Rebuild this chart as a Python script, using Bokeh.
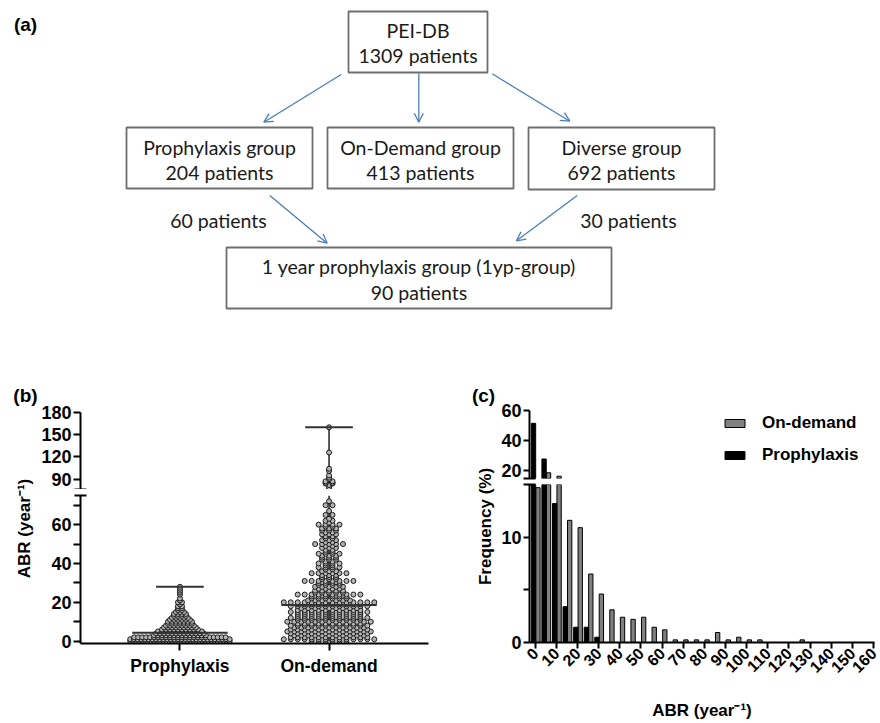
import math
from bokeh.plotting import figure
from bokeh.layouts import column, row
from bokeh.models import (Range1d, FixedTicker, Arrow, OpenHead, Legend,
                          LegendItem, ColumnDataSource)
from bokeh.core.properties import value
from bokeh.embed import file_html
from bokeh.resources import INLINE

# ---------------- data ----------------
# (a) flow chart texts
source_box_text = ["PEI-DB", "1309 patients"]
group_names = ["Prophylaxis group", "On-Demand group", "Diverse group"]
group_counts = ["204 patients", "413 patients", "692 patients"]
transfer_labels = ["60 patients", "30 patients"]
final_box_text = ["1 year prophylaxis group (1yp-group)", "90 patients"]

# (b) individual ABR values (value -> number of patients)
b_categories = ["Prophylaxis", "On-demand"]
proph_abr = [0, 1, 2, 3, 4, 5, 6, 7, 8, 9, 10, 11, 12, 13, 14, 15, 16, 17, 18, 19,
             20, 21, 22, 24, 25, 26, 27, 28]
proph_n = [34, 28, 24, 14, 13, 12, 10, 9, 8, 7, 7, 6, 5, 4, 4, 3, 2, 2, 2, 1,
           2, 1, 1, 1, 1, 1, 1, 1]
ond_abr = [0, 1, 2, 3, 4, 5, 6, 7, 8, 9, 10, 11, 12, 13, 14, 15, 16, 17, 18,
           19, 20, 21, 22, 23, 24, 25, 26, 27, 28, 29, 30,
           31, 32, 33, 34, 35, 36, 37, 38, 39, 40,
           41, 42, 43, 44, 45, 46, 47, 48, 49, 50,
           51, 52, 53, 54, 55, 56, 57, 58, 59, 60,
           61, 62, 63, 65, 67, 70, 72,
           77, 79, 82, 84, 85, 87, 90, 92, 95, 101, 104, 126, 160]
ond_n = [6, 14, 12, 11, 12, 13, 12, 11, 12, 10, 13, 10, 12, 10, 10, 12, 10, 9, 12,
         10, 14, 7, 6, 6, 10, 5, 5, 4, 5, 4, 4,
         8, 3, 3, 3, 6, 3, 2, 4, 2, 4,
         2, 3, 3, 3, 4, 2, 2, 3, 2, 5,
         2, 3, 2, 2, 3, 2, 3, 3, 2, 4,
         1, 2, 1, 2, 1, 2, 1,
         1, 1, 1, 2, 2, 2, 1, 1, 1, 1, 1, 1, 1]
b_median = [4.3, 18.6]
b_max = [28, 160]
b_min = [0, 0]
b_lower_ticks = [0, 20, 40, 60]
b_lower_minor = [10, 30, 50, 70]
b_upper_ticks = [90, 120, 150, 180]

# (c) frequency distribution (%), bins of 5
c_bins = [0, 5, 10, 15, 20, 25, 30, 35, 40, 45, 50, 55, 60, 65, 70, 75, 80, 85, 90,
          95, 100, 105, 110, 115, 120, 125, 130, 135, 140, 145, 150, 155, 160]
c_ondemand = [14.7, 18.8, 16.5, 11.6, 10.9, 6.5, 4.6, 3.1, 2.4, 2.2, 2.4, 1.45, 1.2,
              0.25, 0.25, 0.25, 0.25, 0.95, 0.25, 0.5, 0.25, 0.25, 0, 0, 0, 0.25,
              0, 0, 0, 0, 0, 0, 0]
c_prophylaxis = [51.5, 27.9, 13.2, 3.4, 1.45, 1.45, 0.5, 0, 0, 0, 0, 0, 0, 0, 0, 0,
                 0, 0, 0, 0, 0, 0, 0, 0, 0, 0, 0, 0, 0, 0, 0, 0, 0]
c_series = ["On-demand", "Prophylaxis"]
c_xticks = [0, 10, 20, 30, 40, 50, 60, 70, 80, 90, 100, 110, 120, 130, 140, 150, 160]
c_lower_ticks = [0, 5, 10]
c_upper_ticks = [20, 40, 60]

# ---------------- styling helpers ----------------
BOLD_FONT = "Liberation Sans"
FLOW_FONT = "Lato"
BLUE = "#4a7ebb"
BOX = "#6e6e6e"


def blank_fig(w, h, xr, yr):
    f = figure(width=w, height=h, x_range=Range1d(*xr), y_range=Range1d(*yr),
               toolbar_location=None, output_backend="svg", min_border=0,
               x_axis_location=None, y_axis_location=None)
    f.grid.visible = False
    f.outline_line_color = None
    return f


def style_axis(ax, tick_out=7, size="18px"):
    ax.axis_line_width = 2
    ax.axis_line_color = "black"
    ax.major_tick_line_width = 2
    ax.major_tick_line_color = "black"
    ax.major_tick_out = tick_out
    ax.major_tick_in = 0
    ax.minor_tick_line_width = 2
    ax.minor_tick_line_color = "black"
    ax.minor_tick_in = 6
    ax.minor_tick_out = 6
    ax.major_label_text_font = BOLD_FONT
    ax.major_label_text_font_style = "bold"
    ax.major_label_text_font_size = size
    ax.major_label_text_color = "black"
    ax.major_label_standoff = 2


# ---------------- (a) flow chart ----------------
fa = blank_fig(880, 380, (0, 880), (380, 0))
boxes = dict(left=[348, 126, 327, 528, 226], right=[487, 312, 513, 714, 611],
             top=[11, 127, 127, 127, 247], bottom=[72, 188, 188, 189, 308])
fa.quad(source=ColumnDataSource(boxes), left="left", right="right", top="top",
        bottom="bottom", fill_color=None, line_color=BOX, line_width=1.8)

flow_x = [417.5, 417.5, 219, 219, 420, 420, 621, 621, 418.5, 418.5, 218, 628]
flow_y = [30, 55, 146.7, 171.7, 146.7, 171.7, 146.7, 171.7, 266, 291.7, 220, 220]
flow_t = (source_box_text
          + [group_names[0], group_counts[0], group_names[1], group_counts[1],
             group_names[2], group_counts[2]]
          + final_box_text + transfer_labels)
fa.text(x=flow_x, y=flow_y, text=flow_t, text_font=value(FLOW_FONT),
        text_font_size=value("19.5px"), text_color="#1a1a1a",
        text_align="center", text_baseline="middle")
fa.text(x=[25], y=[24], text=["(a)"], text_font=value(BOLD_FONT),
        text_font_style="bold", text_font_size=value("19px"), text_color="black",
        text_align="center", text_baseline="middle")

arrows = [((340.7, 74), (263.3, 121.7)), ((418.3, 72.7), (418.3, 121.7)),
          ((491.7, 73.3), (569.3, 120.7)), ((269.3, 195), (326.7, 242.7)),
          ((576.7, 195), (516, 240.3))]
for (xs, ys), (xe, ye) in arrows:
    fa.add_layout(Arrow(end=OpenHead(size=9, line_color=BLUE, line_width=1.3),
                        x_start=xs, y_start=ys, x_end=xe, y_end=ye,
                        line_color=BLUE, line_width=1.3))

# ---------------- (b) scatter dot plot with broken axis ----------------
B_XR = (0.333, 2.667)
B_FRAME_W = 350
B_LOW = (-1.2, 75)
B_UP = (76, 180)
px_per_x = B_FRAME_W / (B_XR[1] - B_XR[0])


def make_swarm(center, vals, counts, spacing_px, max_half_px):
    xs, ys = [], []
    for v, n in zip(vals, counts):
        sp = spacing_px
        if n > 1 and (n - 1) * sp / 2.0 > max_half_px:
            sp = 2.0 * max_half_px / (n - 1)
        for k in range(n):
            xs.append(center + (k - (n - 1) / 2.0) * sp / px_per_x)
            ys.append(v)
    return xs, ys


px1, py1 = make_swarm(1, proph_abr, proph_n, 4.0, 50)
px2, py2 = make_swarm(2, ond_abr, ond_n, 7.0, 50)
all_x, all_y = px1 + px2, py1 + py2
cat_x = [1, 2]


def b_segment_sources(lo, hi):
    """Split the dots / summary lines to the part of the broken axis [lo, hi]."""
    d = ColumnDataSource(dict(x=[x for x, y in zip(all_x, all_y) if lo <= y <= hi],
                              y=[y for y in all_y if lo <= y <= hi]))
    vx, v0, v1 = [], [], []
    for c, a, b in zip(cat_x, b_min, b_max):
        if b >= lo and a <= hi:
            vx.append(c); v0.append(max(a, lo)); v1.append(min(b, hi))
    vline = ColumnDataSource(dict(x=vx, y0=v0, y1=v1))
    caps = ColumnDataSource(dict(
        x0=[c - 0.16 for c, b in zip(cat_x, b_max) if lo <= b <= hi],
        x1=[c + 0.16 for c, b in zip(cat_x, b_max) if lo <= b <= hi],
        y=[b for b in b_max if lo <= b <= hi]))
    meds = ColumnDataSource(dict(
        x0=[c - 0.32 for c, m in zip(cat_x, b_median) if lo <= m <= hi],
        x1=[c + 0.32 for c, m in zip(cat_x, b_median) if lo <= m <= hi],
        y=[m for m in b_median if lo <= m <= hi]))
    return d, vline, caps, meds


b_top = figure(width=402, height=109, x_range=Range1d(*B_XR), y_range=Range1d(*B_UP),
               toolbar_location=None, output_backend="svg", x_axis_location=None,
               min_border_left=40, min_border_right=12, min_border_top=32,
               min_border_bottom=0)
b_bot = figure(width=402, height=234, x_range=b_top.x_range, y_range=Range1d(*B_LOW),
               toolbar_location=None, output_backend="svg",
               min_border_left=40, min_border_right=12, min_border_top=6,
               min_border_bottom=80)
for f, (lo, hi) in ((b_top, B_UP), (b_bot, B_LOW)):
    f.grid.visible = False
    f.outline_line_color = None
    d, vline, caps, meds = b_segment_sources(lo, hi)
    f.segment(x0="x", y0="y0", x1="x", y1="y1", source=vline,
              line_color="#222222", line_width=1.5)
    f.scatter(x="x", y="y", source=d, size=5, line_color="#1a1a1a",
              line_width=1, fill_color="#b4b4b4")
    f.segment(x0="x0", y0="y", x1="x1", y1="y", source=caps,
              line_color="#333333", line_width=2)
    f.segment(x0="x0", y0="y", x1="x1", y1="y", source=meds,
              line_color="#333333", line_width=2)
    style_axis(f.yaxis[0])

b_top.yaxis[0].ticker = FixedTicker(ticks=b_upper_ticks, minor_ticks=[B_UP[0]])
b_bot.yaxis[0].ticker = FixedTicker(ticks=b_lower_ticks + b_lower_minor,
                                    minor_ticks=[B_LOW[1]])
b_bot.yaxis[0].major_label_overrides = {t: "" for t in b_lower_minor}
bx = b_bot.xaxis[0]
style_axis(bx, size="17.5px")
bx.ticker = FixedTicker(ticks=cat_x, minor_ticks=[])
bx.major_label_overrides = {c: lab for c, lab in zip(cat_x, b_categories)}
bx.major_label_standoff = 5

b_lab = blank_fig(38, 343, (0, 38), (723, 380))
b_lab.text(x=[25], y=[395], text=["(b)"], text_font=value(BOLD_FONT),
           text_font_style="bold", text_font_size=value("19px"), text_color="black",
           text_align="center", text_baseline="middle")
b_lab.text(x=[24], y=[528], text=["ABR (year⁻¹)"], angle=math.pi / 2,
           text_font=value(BOLD_FONT), text_font_style="bold",
           text_font_size=value("17px"), text_color="black",
           text_align="center", text_baseline="middle")

# ---------------- (c) frequency distribution with broken axis ----------------
C_XR = (-2.7, 160.5)
C_LOW = (0, 15)
C_UP = (15, 60)


def c_source(vals, shift, lo, hi):
    keep = [(b, v) for b, v in zip(c_bins, vals) if v > lo]
    return ColumnDataSource(dict(x=[b + 0.25 + shift for b, v in keep],
                                 top=[min(v, hi) for b, v in keep],
                                 bottom=[lo for b, v in keep]))


c_top = figure(width=382, height=103, x_range=Range1d(*C_XR), y_range=Range1d(*C_UP),
               toolbar_location=None, output_backend="svg", x_axis_location=None,
               min_border_left=31, min_border_right=6, min_border_top=30,
               min_border_bottom=5)
c_bot = figure(width=382, height=240, x_range=c_top.x_range, y_range=Range1d(*C_LOW),
               toolbar_location=None, output_backend="svg",
               min_border_left=31, min_border_right=6, min_border_top=1,
               min_border_bottom=81)
rend = {}
for f, (lo, hi) in ((c_top, C_UP), (c_bot, C_LOW)):
    f.grid.visible = False
    f.outline_line_color = None
    rg = f.vbar(x="x", top="top", bottom="bottom", width=2.05,
                source=c_source(c_ondemand, 1.05, lo, hi),
                fill_color="#808080", line_color="black", line_width=1)
    rb = f.vbar(x="x", top="top", bottom="bottom", width=2.05,
                source=c_source(c_prophylaxis, -1.05, lo, hi),
                fill_color="black", line_color="black", line_width=1)
    rend[f] = (rg, rb)
    style_axis(f.yaxis[0], tick_out=6)

c_top.yaxis[0].ticker = FixedTicker(ticks=c_upper_ticks, minor_ticks=[C_UP[0]])
c_bot.yaxis[0].ticker = FixedTicker(ticks=c_lower_ticks, minor_ticks=[C_LOW[1]])
c_bot.yaxis[0].major_label_overrides = {5: ""}
cx = c_bot.xaxis[0]
style_axis(cx, tick_out=6, size="16px")
cx.ticker = FixedTicker(ticks=c_xticks, minor_ticks=[])
cx.major_label_orientation = math.pi / 4
cx.axis_label = "ABR (year⁻¹)"
cx.axis_label_text_font = BOLD_FONT
cx.axis_label_text_font_style = "bold"
cx.axis_label_text_font_size = "17px"
cx.axis_label_text_color = "black"
cx.axis_label_standoff = 20

legend = Legend(items=[LegendItem(label=c_series[0], renderers=[rend[c_top][0]]),
                       LegendItem(label=c_series[1], renderers=[rend[c_top][1]])],
                location=(193, 13), orientation="vertical", glyph_width=25,
                glyph_height=10, label_standoff=15, spacing=12, padding=0, margin=0,
                label_height=20, border_line_color=None, background_fill_alpha=0,
                label_text_font=BOLD_FONT, label_text_font_style="bold",
                label_text_font_size="17px", label_text_color="black")
c_top.add_layout(legend)

c_lab = blank_fig(58, 343, (440, 498), (723, 380))
c_lab.text(x=[483], y=[395], text=["(c)"], text_font=value(BOLD_FONT),
           text_font_style="bold", text_font_size=value("19px"), text_color="black",
           text_align="center", text_baseline="middle")
c_lab.text(x=[485], y=[526], text=["Frequency (%)"], angle=math.pi / 2,
           text_font=value(BOLD_FONT), text_font_style="bold",
           text_font_size=value("17px"), text_color="black",
           text_align="center", text_baseline="middle")

layout = column(fa, row(b_lab, column(b_top, b_bot), c_lab, column(c_top, c_bot)))
open("out.html", "w").write(file_html(layout, INLINE))
